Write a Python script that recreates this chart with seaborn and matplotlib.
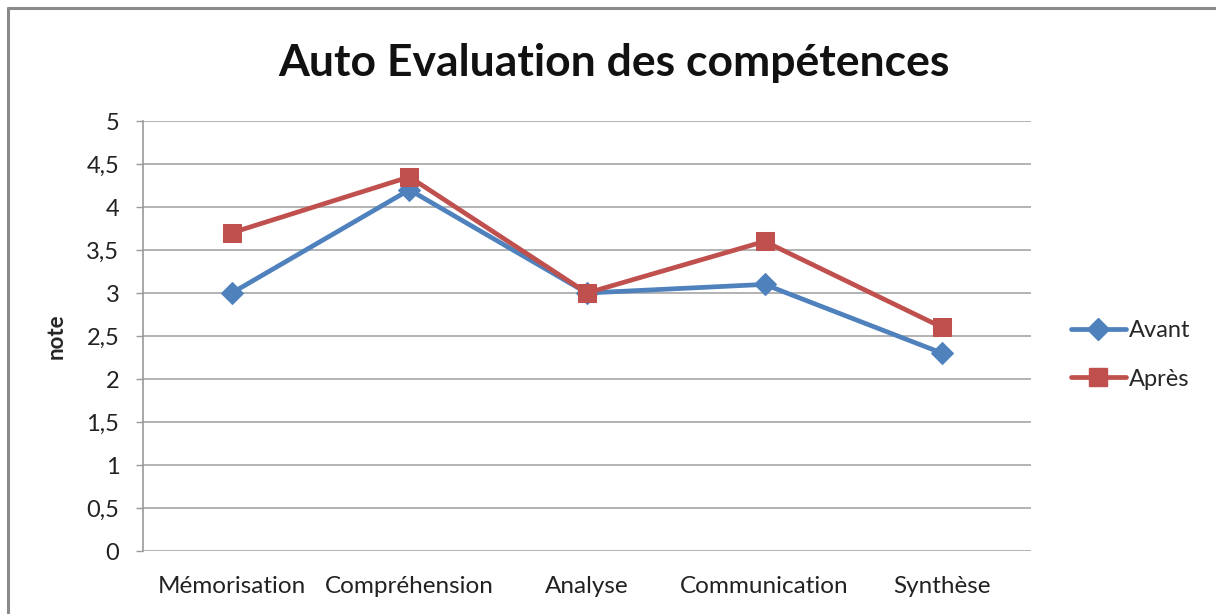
import matplotlib
matplotlib.use("Agg")
import matplotlib.pyplot as plt
import seaborn as sns
import pandas as pd
from matplotlib.lines import Line2D

categories = ["Mémorisation", "Compréhension", "Analyse", "Communication", "Synthèse"]
avant = [3.0, 4.2, 3.0, 3.1, 2.3]
apres = [3.7, 4.35, 3.0, 3.6, 2.6]
series_names = ["Avant", "Après"]
y_ticks = [0, 0.5, 1, 1.5, 2, 2.5, 3, 3.5, 4, 4.5, 5]
y_tick_labels = ["0", "0,5", "1", "1,5", "2", "2,5", "3", "3,5", "4", "4,5", "5"]

df = pd.DataFrame({
    "categorie": categories * 2,
    "pos": list(range(len(categories))) * 2,
    "note": avant + apres,
    "serie": [series_names[0]] * len(categories) + [series_names[1]] * len(categories),
})

sns.set_theme(style="white")
plt.rcParams["font.family"] = ["Lato", "DejaVu Sans"]

colors = {"Avant": "#4F81BD", "Après": "#C0504D"}
markers = {"Avant": "D", "Après": "s"}
msizes = {"Avant": 11, "Après": 13.5}

fig = plt.figure(figsize=(12.16, 6.14), dpi=100)
ax = fig.add_axes([143 / 1216, 1 - 551 / 614, (1031 - 143) / 1216, (551 - 121) / 614])

for name in series_names:
    sub = df[df["serie"] == name]
    sns.lineplot(data=sub, x="pos", y="note", ax=ax, color=colors[name], linewidth=3.4,
                 marker=markers[name], markersize=msizes[name], markeredgecolor=colors[name],
                 label=name, legend=False, zorder=3)

ax.set_xlim(-0.5, len(categories) - 0.5)
ax.set_ylim(0, 5)
ax.set_yticks(y_ticks)
ax.set_yticklabels(y_tick_labels, fontsize=17, color="#222222")
ax.set_xticks(range(len(categories)))
ax.set_xticklabels(categories, fontsize=17.5, color="#222222")
ax.tick_params(axis="x", length=0, pad=18)
ax.tick_params(axis="y", length=5, width=1, color="#9a9a9a", pad=12, left=True)
ax.yaxis.grid(True, color="#a6a6a6", linewidth=1.2)
ax.set_axisbelow(True)
for s in ["top", "right", "bottom"]:
    ax.spines[s].set_visible(False)
ax.spines["left"].set_color("#9a9a9a")
ax.spines["left"].set_linewidth(1.2)
ax.set_xlabel("")
ax.set_ylabel("note", fontsize=16, fontweight="bold", labelpad=14)

fig.suptitle("Auto Evaluation des compétences", fontsize=32, fontweight="bold",
             x=0.505, y=0.93, color="#111111")

handles = [Line2D([], [], color=colors[n], linewidth=3.4, marker=markers[n],
                  markersize=msizes[n], markeredgecolor=colors[n]) for n in series_names]
fig.legend(handles, series_names, loc="center left", bbox_to_anchor=(1050 / 1216, 1 - 355 / 614),
           frameon=False, fontsize=17, handlelength=2.3, handletextpad=0.15, labelspacing=1.15)

# outer chart frame (top and left edges)
fig.add_artist(Line2D([8 / 1216, 1], [1 - 8 / 614, 1 - 8 / 614], color="#8a8a8a", linewidth=2.2,
                      transform=fig.transFigure))
fig.add_artist(Line2D([8 / 1216, 8 / 1216], [0, 1 - 8 / 614], color="#8a8a8a", linewidth=2.2,
                      transform=fig.transFigure))

fig.savefig("out.png", dpi=100, facecolor="white")
